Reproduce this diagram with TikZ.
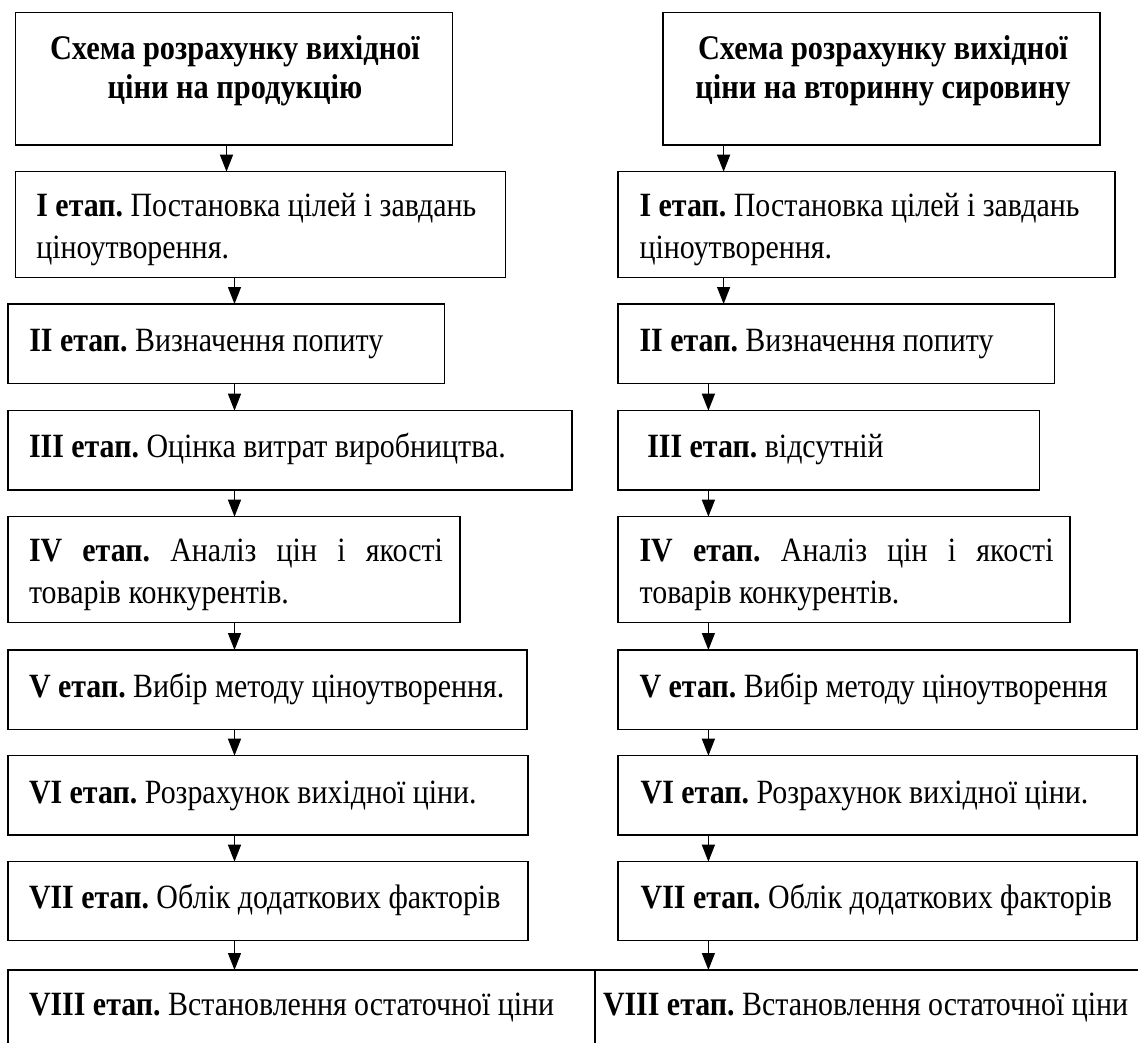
\documentclass[tikz,border=0pt]{standalone}
\usepackage{fontspec}
\setmainfont{Liberation Serif}[FakeStretch=0.88]
\usetikzlibrary{arrows.meta}
\begin{document}
\frenchspacing
\begin{tikzpicture}[x=1pt,y=-1pt,
  box/.style={draw=black,line width=1.3pt,rectangle,inner sep=0pt,outer sep=0pt,anchor=north west},
  txt/.style={inner sep=0pt,outer sep=0pt,anchor=base west,font=\fontsize{34}{41}\selectfont},
  ttl/.style={inner sep=0pt,outer sep=0pt,anchor=base,font=\fontsize{34.5}{41}\selectfont\bfseries},
  arr/.style={line width=1.3pt,-{Triangle[length=17pt,width=13pt]}}]
\useasboundingbox (0,0) rectangle (1138,1043);
\clip (0,0) rectangle (1138,1043);
% boxes left
\node[box,minimum width=437.4pt,minimum height=132.3pt] (tL) at (15.3,12.7) {};
\node[box,minimum width=490.2pt,minimum height=106pt] (b1L) at (15.3,171.7) {};
\node[box,minimum width=436.7pt,minimum height=79.3pt] (b2L) at (8,304) {};
\node[box,minimum width=564pt,minimum height=79.3pt] (b3L) at (8,410.7) {};
\node[box,minimum width=452pt,minimum height=106pt] (b4L) at (8,516.7) {};
\node[box,minimum width=519pt,minimum height=79.3pt] (b5L) at (8,650) {};
\node[box,minimum width=520pt,minimum height=79.3pt] (b6L) at (8,755.7) {};
\node[box,minimum width=520pt,minimum height=79pt] (b7L) at (8,861.7) {};
\node[box,minimum width=587pt,minimum height=79pt] (b8L) at (8,970) {};
% boxes right
\node[box,minimum width=437pt,minimum height=132.3pt] (tR) at (663,12.7) {};
\node[box,minimum width=497pt,minimum height=106pt] (b1R) at (618,171.7) {};
\node[box,minimum width=436.5pt,minimum height=79.3pt] (b2R) at (618,304) {};
\node[box,minimum width=421.6pt,minimum height=79.3pt] (b3R) at (618,410.7) {};
\node[box,minimum width=452pt,minimum height=106pt] (b4R) at (618,516.7) {};
\node[box,minimum width=519pt,minimum height=79.3pt] (b5R) at (618,650) {};
\node[box,minimum width=519pt,minimum height=79.3pt] (b6R) at (618,755.7) {};
\node[box,minimum width=519pt,minimum height=79pt] (b7R) at (618,861.7) {};
\node[box,minimum width=560pt,minimum height=79pt] (b8R) at (595,970) {};
% texts left
\node[ttl] (ttL1) at (235,59.3) {Схема розрахунку вихідної};
\node[ttl] (ttL2) at (235,98.3) {ціни на продукцію};
\node[txt] (x1La) at (36.4,217) {\textbf{I етап.} Постановка цілей і завдань};
\node[txt] (x1Lb) at (36.4,258.3) {ціноутворення.};
\node[txt] (x2L) at (29.3,351) {\textbf{II етап.} Визначення попиту};
\node[txt] (x3L) at (29,457) {\textbf{III етап.} Оцінка витрат виробництва.};
\node[txt] (x4La) at (29,561.7) {\makebox[414pt][s]{\textbf{IV етап.} Аналіз цін і якості}};
\node[txt] (x4Lb) at (29,603.3) {товарів конкурентів.};
\node[txt] (x5L) at (29,697) {\textbf{V етап.} Вибір методу ціноутворення.};
\node[txt] (x6L) at (29,803.3) {\textbf{VI етап.} Розрахунок вихідної ціни.};
\node[txt] (x7L) at (29,908.3) {\textbf{VII етап.} Облік додаткових факторів};
\node[txt] (x8L) at (29,1015) {\textbf{VIII етап.} Встановлення остаточної ціни};
% texts right
\node[ttl] (ttR1) at (883,59.3) {Схема розрахунку вихідної};
\node[ttl] (ttR2) at (883,98.3) {ціни на вторинну сировину};
\node[txt] (x1Ra) at (639.6,217) {\textbf{I етап.} Постановка цілей і завдань};
\node[txt] (x1Rb) at (639.6,258.3) {ціноутворення.};
\node[txt] (x2R) at (639.6,351) {\textbf{II етап.} Визначення попиту};
\node[txt] (x3R) at (647.3,457) {\textbf{III етап.} відсутній};
\node[txt] (x4Ra) at (639.6,561.7) {\makebox[414pt][s]{\textbf{IV етап.} Аналіз цін і якості}};
\node[txt] (x4Rb) at (639.6,603.3) {товарів конкурентів.};
\node[txt] (x5R) at (639.6,697) {\textbf{V етап.} Вибір методу ціноутворення};
\node[txt] (x6R) at (640.7,803.3) {\textbf{VI етап.} Розрахунок вихідної ціни.};
\node[txt] (x7R) at (640.7,908.3) {\textbf{VII етап.} Облік додаткових факторів};
\node[txt] (x8R) at (603,1015) {\textbf{VIII етап.} Встановлення остаточної ціни};
% arrow columns
\coordinate (aL0) at (226.5,0);
\coordinate (aL) at (234.5,0);
\coordinate (aR0) at (723.6,0);
\coordinate (aR) at (708.4,0);
\draw[arr] (tL.south -| aL0) -- (b1L.north -| aL0);
\draw[arr] (b1L.south -| aL) -- (b2L.north -| aL);
\draw[arr] (b2L.south -| aL) -- (b3L.north -| aL);
\draw[arr] (b3L.south -| aL) -- (b4L.north -| aL);
\draw[arr] (b4L.south -| aL) -- (b5L.north -| aL);
\draw[arr] (b5L.south -| aL) -- (b6L.north -| aL);
\draw[arr] (b6L.south -| aL) -- (b7L.north -| aL);
\draw[arr] (b7L.south -| aL) -- (b8L.north -| aL);
\draw[arr] (tR.south -| aR0) -- (b1R.north -| aR0);
\draw[arr] (b1R.south -| aR0) -- (b2R.north -| aR0);
\draw[arr] (b2R.south -| aR) -- (b3R.north -| aR);
\draw[arr] (b3R.south -| aR) -- (b4R.north -| aR);
\draw[arr] (b4R.south -| aR) -- (b5R.north -| aR);
\draw[arr] (b5R.south -| aR) -- (b6R.north -| aR);
\draw[arr] (b6R.south -| aR) -- (b7R.north -| aR);
\draw[arr] (b7R.south -| aR) -- (b8R.north -| aR);
\end{tikzpicture}
\end{document}
